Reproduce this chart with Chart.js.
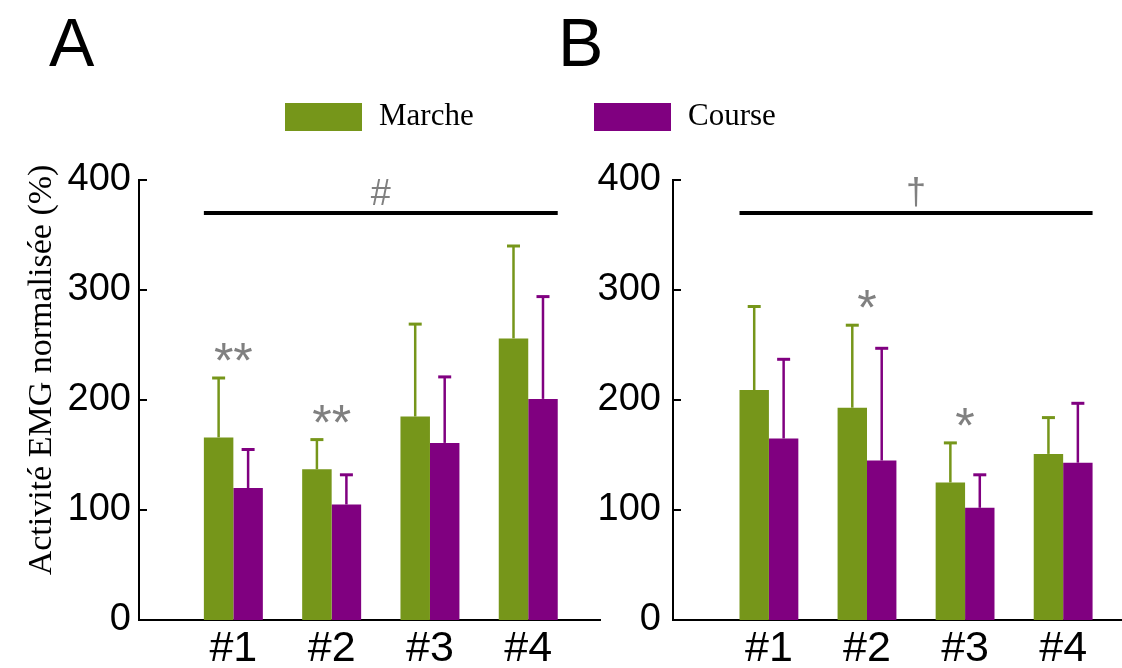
<!DOCTYPE html>
<html>
<head>
<meta charset="utf-8">
<script src="https://cdn.jsdelivr.net/npm/chart.js@4.4.0/dist/chart.umd.min.js"></script>
<style>
  body { margin: 0; background: #fff; }
  #wrap { position: relative; width: 1122px; height: 668px; overflow: hidden; }
  canvas { position: absolute; top: 0; }
  .panel { position: absolute; font-family: "Liberation Sans", Arial, sans-serif; font-size: 68px; line-height: 68px; color: #000; }
  .leg { position: absolute; font-family: "Liberation Serif", "Times New Roman", serif; font-size: 31px; line-height: 31px; color: #000; white-space: nowrap; }
  .box { position: absolute; width: 77px; height: 28px; }
  #ytitle { position: absolute; width: 500px; left: -210px; top: 353px; text-align: center; transform: rotate(-90deg); font-size: 34px; line-height: 34px; }
</style>
</head>
<body>
<div id="wrap">
  <canvas id="chartA" width="610" height="668" style="left:0"></canvas>
  <canvas id="chartB" width="562" height="668" style="left:560px"></canvas>
  <div class="panel" style="left:49px;top:8px">A</div>
  <div class="panel" style="left:558px;top:8px">B</div>
  <div id="legend"></div>
  <div id="ytitle" class="leg">Activité EMG normalisée (%)</div>
</div>
<script>
const categories = ["#1", "#2", "#3", "#4"];
const seriesNames = ["Marche", "Course"];
const colors = ["#76961a", "#800080"];

// panel A
const marcheA = [166, 137, 185, 256];
const marcheA_sd = [54, 27, 84, 84];
const courseA = [120, 105, 161, 201];
const courseA_sd = [35, 27, 60, 93];
const starsA = ["**", "**", "", ""];

// panel B
const marcheB = [209, 193, 125, 151];
const marcheB_sd = [76, 75, 36, 33];
const courseB = [165, 145, 102, 143];
const courseB_sd = [72, 102, 30, 54];
const starsB = ["", "*", "*", ""];

const yTicks = [0, 100, 200, 300, 400];
const groupSymbols = ["#", "\u2020"];

// legend
const legend = document.getElementById("legend");
const legPos = [285, 594];
seriesNames.forEach((name, i) => {
  legend.insertAdjacentHTML("beforeend",
    '<div class="box" style="left:' + legPos[i] + 'px;top:103px;background:' + colors[i] + '"></div>' +
    '<div class="leg" style="left:' + (legPos[i] + 94) + 'px;top:99px">' + name + '</div>');
});

function drawCentered(ctx, s, cx, cy) {
  const m = ctx.measureText(s);
  ctx.fillText(s, cx, cy + (m.actualBoundingBoxAscent - m.actualBoundingBoxDescent) / 2);
}

const errorBars = {
  id: "errorBars",
  afterDatasetsDraw(chart) {
    const ctx = chart.ctx, y = chart.scales.y;
    chart.data.datasets.forEach((ds, i) => {
      chart.getDatasetMeta(i).data.forEach((bar, j) => {
        const top = y.getPixelForValue(ds.data[j].y + ds.sd[j]);
        ctx.save();
        ctx.strokeStyle = ds.backgroundColor;
        ctx.lineWidth = 2.5;
        ctx.beginPath();
        ctx.moveTo(bar.x, bar.y);
        ctx.lineTo(bar.x, top);
        ctx.stroke();
        ctx.lineWidth = 3;
        ctx.beginPath();
        ctx.moveTo(bar.x - 6.5, top);
        ctx.lineTo(bar.x + 6.5, top);
        ctx.stroke();
        ctx.restore();
      });
    });
  }
};

const sigMarks = {
  id: "sigMarks",
  afterDatasetsDraw(chart, args, opts) {
    const ctx = chart.ctx, x = chart.scales.x, y = chart.scales.y;
    const m0 = chart.getDatasetMeta(0).data, m1 = chart.getDatasetMeta(1).data;
    ctx.save();
    ctx.fillStyle = "#808080";
    ctx.textAlign = "center";
    ctx.textBaseline = "alphabetic";
    ctx.font = '50px "Liberation Sans", Arial, sans-serif';
    opts.stars.forEach((s, j) => {
      if (!s) return;
      const tops = chart.data.datasets.map(ds => y.getPixelForValue(ds.data[j].y + ds.sd[j]));
      drawCentered(ctx, s, x.getPixelForValue(j + 1), Math.min(...tops) - 26);
    });

    // bar over all groups
    const last = m1[m1.length - 1];
    const x0 = m0[0].x - m0[0].width / 2, x1 = last.x + last.width / 2;
    const by = y.getPixelForValue(opts.level);
    ctx.strokeStyle = "#000";
    ctx.lineWidth = 4;
    ctx.beginPath();
    ctx.moveTo(x0, by);
    ctx.lineTo(x1, by);
    ctx.stroke();
    ctx.font = '36px "Liberation Sans", Arial, sans-serif';
    drawCentered(ctx, opts.symbol, (x0 + x1) / 2, by - 21);

    // inward ticks on y axis
    ctx.lineWidth = 2;
    y.ticks.forEach(t => {
      const py = Math.round(y.getPixelForValue(t.value));
      ctx.beginPath();
      ctx.moveTo(y.right, py);
      ctx.lineTo(y.right + 8, py);
      ctx.stroke();
    });
    ctx.restore();
  }
};

function makeChart(id, marche, marcheSd, course, courseSd, stars, symbol, cfg) {
  const toXY = arr => arr.map((v, i) => ({ x: i + 1, y: v }));
  return new Chart(document.getElementById(id), {
    type: "bar",
    data: {
      datasets: [
        { label: seriesNames[0], data: toXY(marche), sd: marcheSd, backgroundColor: colors[0] },
        { label: seriesNames[1], data: toXY(course), sd: courseSd, backgroundColor: colors[1] }
      ]
    },
    options: {
      responsive: false,
      animation: false,
      layout: { padding: { top: 180, right: cfg.padRight, bottom: 0, left: 0 } },
      datasets: { bar: { categoryPercentage: 0.6, barPercentage: 1, borderWidth: 0 } },
      plugins: {
        legend: { display: false },
        tooltip: { enabled: false },
        sigMarks: { stars: stars, symbol: symbol, level: 370 }
      },
      scales: {
        x: {
          type: "linear",
          offset: false,
          min: cfg.xMin,
          max: cfg.xMax,
          grid: { display: false, drawTicks: false },
          border: { display: true, color: "#000", width: 2 },
          afterBuildTicks: s => { s.ticks = categories.map((c, i) => ({ value: i + 1 })); },
          afterFit: s => { s.height = 48; },
          ticks: {
            autoSkip: false,
            maxRotation: 0,
            padding: 3,
            color: "#000",
            font: { family: '"Liberation Sans", Arial, sans-serif', size: 43 },
            callback: v => categories[v - 1]
          }
        },
        y: {
          min: 0,
          max: 400,
          grid: { display: false, drawTicks: false },
          border: { display: true, color: "#000", width: 2 },
          afterBuildTicks: s => { s.ticks = yTicks.map(v => ({ value: v })); },
          afterFit: s => { s.width = cfg.yWidth; },
          ticks: {
            padding: cfg.yPad,
            color: "#000",
            font: { family: '"Liberation Sans", Arial, sans-serif', size: 38 }
          }
        }
      }
    },
    plugins: [errorBars, sigMarks]
  });
}

makeChart("chartA", marcheA, marcheA_sd, courseA, courseA_sd, starsA, groupSymbols[0],
  { xMin: 0.04, xMax: 4.73, yWidth: 139, yPad: 8, padRight: 10 });
makeChart("chartB", marcheB, marcheB_sd, courseB, courseB_sd, starsB, groupSymbols[1],
  { xMin: 0.022, xMax: 4.6, yWidth: 113, yPad: 12, padRight: 0 });
</script>
</body>
</html>
